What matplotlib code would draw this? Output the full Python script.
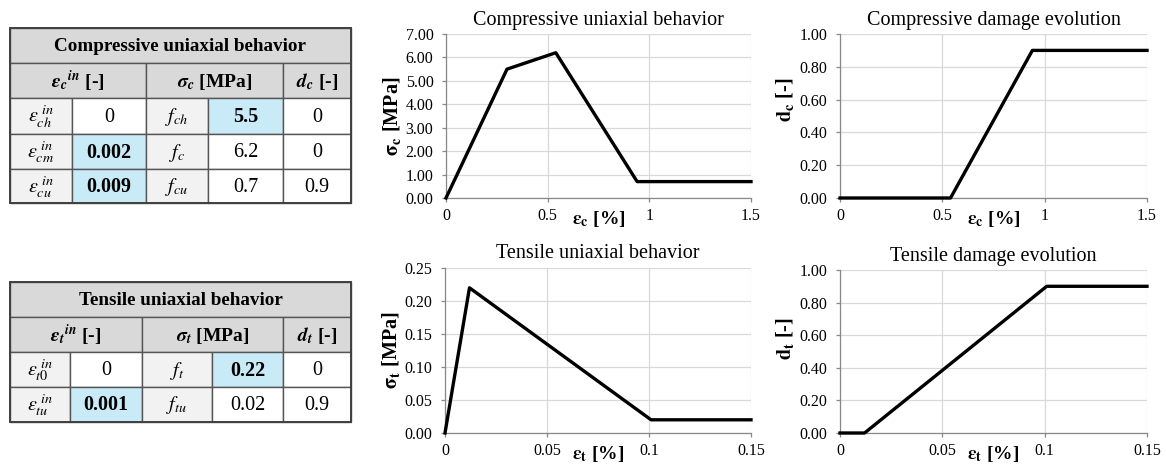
import numpy as np
import matplotlib.pyplot as plt
from matplotlib.patches import Rectangle
from matplotlib.ticker import FormatStrFormatter

plt.rcParams['font.family'] = ['Liberation Serif', 'DejaVu Serif']
plt.rcParams['mathtext.fontset'] = 'stix'

# --------------------------
# Curve data (strain in %)
# --------------------------
comp_strain = [0, 0.30, 0.54, 0.94, 1.5]
comp_stress = [0, 5.5, 6.2, 0.7, 0.7]
comp_dmg_strain = [0, 0.54, 0.94, 1.5]
comp_damage = [0, 0, 0.9, 0.9]

tens_strain = [0, 0.012, 0.101, 0.15]
tens_stress = [0, 0.22, 0.02, 0.02]
tens_dmg_strain = [0, 0.012, 0.101, 0.15]
tens_damage = [0, 0, 0.9, 0.9]

# --------------------------
# Table data
# --------------------------
comp_title = 'Compressive uniaxial behavior'
comp_headers = [r'$\mathbfit{\varepsilon_c}^{\mathbfit{in}}$ [-]', r'$\mathbfit{\sigma_c}$ [MPa]', r'$\mathbfit{d_c}$ [-]']
comp_eps_labels = [r'$\varepsilon_{ch}^{\ in}$', r'$\varepsilon_{cm}^{\ in}$', r'$\varepsilon_{cu}^{\ in}$']
comp_eps_values = ['0', '0.002', '0.009']
comp_sig_labels = [r'$f_{ch}$', r'$f_{c}$', r'$f_{cu}$']
comp_sig_values = ['5.5', '6.2', '0.7']
comp_d_values = ['0', '0', '0.9']
comp_eps_hl = [False, True, True]
comp_sig_hl = [True, False, False]

tens_title = 'Tensile uniaxial behavior'
tens_headers = [r'$\mathbfit{\varepsilon_t}^{\mathbfit{in}}$ [-]', r'$\mathbfit{\sigma_t}$ [MPa]', r'$\mathbfit{d_t}$ [-]']
tens_eps_labels = [r'$\varepsilon_{t0}^{\ in}$', r'$\varepsilon_{tu}^{\ in}$']
tens_eps_values = ['0', '0.001']
tens_sig_labels = [r'$f_{t}$', r'$f_{tu}$']
tens_sig_values = ['0.22', '0.02']
tens_d_values = ['0', '0.9']
tens_eps_hl = [False, True]
tens_sig_hl = [True, False]

W, H = 1166, 474
fig = plt.figure(figsize=(W / 100, H / 100), dpi=100)

# overlay axes in pixel coordinates for the tables
tab = fig.add_axes([0, 0, 1, 1])
tab.set_xlim(0, W)
tab.set_ylim(H, 0)
tab.axis('off')

HEAD_BG = '#d9d9d9'
LABEL_BG = '#f2f2f2'
HL_BG = '#c9eaf7'
EDGE = '#555555'
CELL_FS = 14.5


def cell(x0, x1, y0, y1, txt, bg, **kw):
    tab.add_patch(Rectangle((x0, y0), x1 - x0, y1 - y0, facecolor=bg,
                            edgecolor=EDGE, linewidth=1.0))
    tab.text((x0 + x1) / 2, (y0 + y1) / 2 + 1, txt, ha='center', va='center', **kw)


def draw_table(cols, rows, title, headers, eps_lab, eps_val, sig_lab, sig_val,
               d_val, eps_hl, sig_hl):
    cell(cols[0], cols[-1], rows[0], rows[1], title, HEAD_BG,
         fontsize=13.8, fontweight='bold')
    cell(cols[0], cols[2], rows[1], rows[2], headers[0], HEAD_BG,
         fontsize=CELL_FS - 0.5, fontweight='bold')
    cell(cols[2], cols[4], rows[1], rows[2], headers[1], HEAD_BG,
         fontsize=CELL_FS - 0.5, fontweight='bold')
    cell(cols[4], cols[5], rows[1], rows[2], headers[2], HEAD_BG,
         fontsize=CELL_FS - 0.5, fontweight='bold')
    for i in range(len(eps_lab)):
        y0, y1 = rows[i + 2], rows[i + 3]
        cell(cols[0], cols[1], y0, y1, eps_lab[i], LABEL_BG, fontsize=CELL_FS)
        cell(cols[1], cols[2], y0, y1, eps_val[i], HL_BG if eps_hl[i] else 'white',
             fontsize=CELL_FS, fontweight='bold' if eps_hl[i] else 'normal')
        cell(cols[2], cols[3], y0, y1, sig_lab[i], LABEL_BG, fontsize=CELL_FS)
        cell(cols[3], cols[4], y0, y1, sig_val[i], HL_BG if sig_hl[i] else 'white',
             fontsize=CELL_FS, fontweight='bold' if sig_hl[i] else 'normal')
        cell(cols[4], cols[5], y0, y1, d_val[i], 'white', fontsize=CELL_FS)
    # heavier outer frame
    tab.add_patch(Rectangle((cols[0], rows[0]), cols[-1] - cols[0], rows[-1] - rows[0],
                            fill=False, edgecolor='#404040', linewidth=1.4))


draw_table([10, 72, 146, 208, 283, 351], [28, 63, 98, 134, 169, 203],
           comp_title, comp_headers, comp_eps_labels, comp_eps_values,
           comp_sig_labels, comp_sig_values, comp_d_values, comp_eps_hl, comp_sig_hl)
draw_table([10, 70, 142, 212, 283, 351], [282, 317, 352, 387, 422],
           tens_title, tens_headers, tens_eps_labels, tens_eps_values,
           tens_sig_labels, tens_sig_values, tens_d_values, tens_eps_hl, tens_sig_hl)


# --------------------------
# Charts
# --------------------------
def chart(left, right, top, bottom, x, y, xmax, xticks, xticklabels, ymax, ystep,
          title, xlabel, ylabel, ylabel_y=0.5):
    ax = fig.add_axes([left / W, 1 - bottom / H, (right - left) / W, (bottom - top) / H])
    ax.plot(x, y, color='black', linewidth=2.4, clip_on=False,
            solid_joinstyle='round', zorder=5)
    ax.set_xlim(0, xmax)
    ax.set_ylim(0, ymax)
    ax.set_xticks(xticks)
    ax.set_xticklabels(xticklabels)
    ax.set_yticks(np.linspace(0, ymax, int(round(ymax / ystep)) + 1))
    ax.yaxis.set_major_formatter(FormatStrFormatter('%.2f'))
    ax.grid(True, color='#d9d9d9', linewidth=0.9)
    ax.set_axisbelow(True)
    for s in ['top', 'right']:
        ax.spines[s].set_visible(False)
    for s in ['left', 'bottom']:
        ax.spines[s].set_color('#888888')
        ax.spines[s].set_linewidth(0.9)
    ax.tick_params(axis='both', labelsize=11.5, length=3, color='#888888', width=0.9)
    ax.tick_params(axis='y', pad=6)
    ax.tick_params(axis='x', pad=4)
    ax.text(0.5, 1 + 14 / (bottom - top), title, transform=ax.transAxes,
            ha='center', va='center', fontsize=14.5)
    ax.set_xlabel(xlabel, fontsize=14, fontweight='bold', va='center')
    ax.xaxis.set_label_coords(0.5, -0.13)
    ax.set_ylabel(ylabel, fontsize=14.5, fontweight='bold', va='center')
    ax.yaxis.set_label_coords(-0.178, ylabel_y)
    return ax


chart(446, 751, 34, 198, comp_strain, comp_stress, 1.5, [0, 0.5, 1, 1.5],
      ['0', '0.5', '1', '1.5'], 7, 1, 'Compressive uniaxial behavior',
      r'$\mathbf{\varepsilon_c}$ [%]', r'$\mathbf{\sigma_c}$ [MPa]')
chart(840, 1147, 34, 198, comp_dmg_strain, comp_damage, 1.5, [0, 0.5, 1, 1.5],
      ['0', '0.5', '1', '1.5'], 1, 0.2, 'Compressive damage evolution',
      r'$\mathbf{\varepsilon_c}$ [%]', r'$\mathbf{d_c}$ [-]', ylabel_y=0.6)
chart(445, 751, 268, 433, tens_strain, tens_stress, 0.15, [0, 0.05, 0.1, 0.15],
      ['0', '0.05', '0.1', '0.15'], 0.25, 0.05, 'Tensile uniaxial behavior',
      r'$\mathbf{\varepsilon_t}$ [%]', r'$\mathbf{\sigma_t}$ [MPa]')
chart(840, 1147, 270, 433, tens_dmg_strain, tens_damage, 0.15, [0, 0.05, 0.1, 0.15],
      ['0', '0.05', '0.1', '0.15'], 1, 0.2, 'Tensile damage evolution',
      r'$\mathbf{\varepsilon_t}$ [%]', r'$\mathbf{d_t}$ [-]', ylabel_y=0.58)

fig.savefig('out.png', dpi=100)
